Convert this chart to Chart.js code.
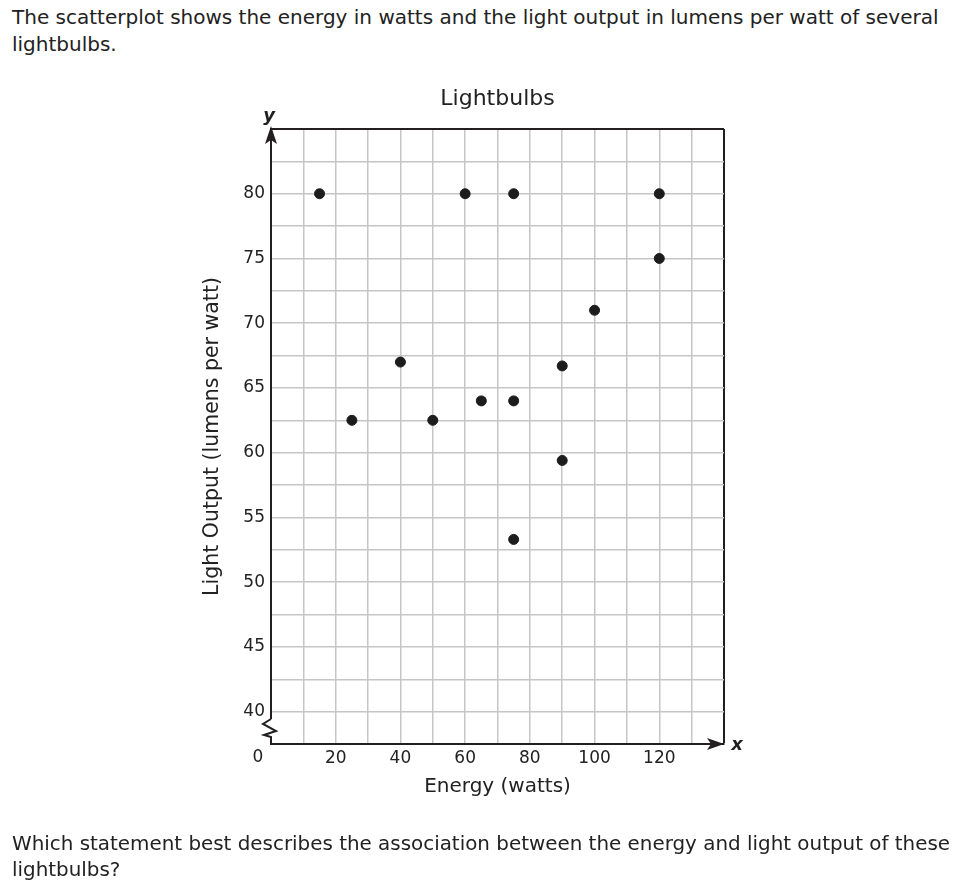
<!DOCTYPE html>
<html>
<head>
<meta charset="utf-8">
<script src="https://cdn.jsdelivr.net/npm/chart.js@4.4.0/dist/chart.umd.min.js"></script>
<style>
    html, body { margin: 0; padding: 0; background: #fff; }
    body { width: 962px; height: 890px; position: relative; overflow: hidden; font-family: 'DejaVu Sans', Verdana, sans-serif; color: #222; }
    .prompt { position: absolute; left: 12px; font-size: 20px; line-height: 27px; white-space: nowrap; }
    #top-text { top: 4px; }
    #bottom-text { top: 831px; line-height: 26px; font-size: 19.9px; }
    #chart { position: absolute; left: 0; top: 0; }
</style>
</head>
<body>
<div class="prompt" id="top-text">The scatterplot shows the energy in watts and the light output in lumens per watt of several<br>lightbulbs.</div>
<canvas id="chart" width="962" height="890"></canvas>
<div class="prompt" id="bottom-text">Which statement best describes the association between the energy and light output of these<br>lightbulbs?</div>
<script>
const energyWatts = [15, 25, 40, 50, 60, 65, 75, 75, 75, 90, 90, 100, 120, 120];
const lumensPerWatt = [80, 62.5, 67, 62.5, 80, 64, 80, 64, 53.3, 66.7, 59.4, 71, 80, 75];
const xTickLabels = [20, 40, 60, 80, 100, 120];
const yTickLabels = [40, 45, 50, 55, 60, 65, 70, 75, 80];

document.addEventListener('DOMContentLoaded', () => {
    const ink = '#231f20';
    const gridGray = '#c6c6c6';
    const fontFamily = "'DejaVu Sans', Verdana, sans-serif";

    // axis decorations: arrows, break, the x/y letters and the origin 0
    const axisExtras = {
        id: 'axisExtras',
        afterDraw(chart) {
            const { ctx, chartArea: area, scales } = chart;
            const x0 = area.left;
            const yb = area.bottom;
            ctx.save();
            ctx.fillStyle = ink;
            ctx.strokeStyle = ink;
            // y arrow
            ctx.beginPath();
            ctx.moveTo(x0, area.top - 3);
            ctx.lineTo(x0 - 6, area.top + 15);
            ctx.lineTo(x0, area.top + 11);
            ctx.lineTo(x0 + 6, area.top + 15);
            ctx.closePath();
            ctx.fill();
            // x arrow
            ctx.beginPath();
            ctx.moveTo(area.right, yb);
            ctx.lineTo(area.right - 17, yb - 6);
            ctx.lineTo(area.right - 13, yb);
            ctx.lineTo(area.right - 17, yb + 6);
            ctx.closePath();
            ctx.fill();
            // axis break
            ctx.fillStyle = '#fff';
            ctx.fillRect(x0 - 2, yb - 25, 4, 18);
            ctx.lineWidth = 2;
            ctx.lineJoin = 'miter';
            ctx.beginPath();
            ctx.moveTo(x0, yb - 25);
            ctx.lineTo(x0 - 8, yb - 20);
            ctx.lineTo(x0 + 5, yb - 13);
            ctx.lineTo(x0 - 7, yb - 9);
            ctx.lineTo(x0, yb - 7);
            ctx.lineTo(x0, yb);
            ctx.stroke();
            // letters
            ctx.fillStyle = ink;
            ctx.font = `italic bold 18px ${fontFamily}`;
            ctx.textAlign = 'center';
            ctx.textBaseline = 'middle';
            ctx.fillText('y', x0 - 2, area.top - 13);
            ctx.fillText('x', area.right + 13, yb + 1);
            ctx.font = `17px ${fontFamily}`;
            ctx.fillStyle = '#222';
            ctx.fillText('0', scales.x.getPixelForValue(0) - 13, yb + 14);
            ctx.restore();
        }
    };

    new Chart(document.getElementById('chart'), {
        type: 'scatter',
        data: {
            datasets: [{
                label: 'Lightbulbs',
                data: energyWatts.map((w, i) => ({ x: w, y: lumensPerWatt[i] })),
                backgroundColor: '#1c1c1c',
                borderColor: '#1c1c1c',
                pointRadius: 5,
                pointHoverRadius: 5
            }]
        },
        options: {
            responsive: false,
            animation: false,
            layout: { padding: { left: 190, right: 238, top: 0, bottom: 70 } },
            plugins: {
                legend: { display: false },
                tooltip: { enabled: false },
                title: {
                    display: true,
                    fullSize: false,
                    text: 'Lightbulbs',
                    color: '#222',
                    font: { family: fontFamily, size: 22, weight: 'normal' },
                    padding: { top: 86, bottom: 16.6 }
                }
            },
            scales: {
                x: {
                    type: 'linear',
                    min: 0,
                    max: 140,
                    afterFit: scale => { scale.height = 76; },
                    grid: {
                        drawTicks: false,
                        color: c => c.tick && c.tick.value === 140 ? ink : gridGray,
                        lineWidth: c => c.tick && c.tick.value === 140 ? 2 : 1.5
                    },
                    border: { color: ink, width: 2 },
                    ticks: {
                        stepSize: 10,
                        autoSkip: false,
                        maxRotation: 0,
                        padding: 4,
                        color: '#222',
                        font: { family: fontFamily, size: 17 },
                        callback: v => xTickLabels.includes(v) ? String(v) : ''
                    },
                    title: {
                        display: true,
                        text: 'Energy (watts)',
                        color: '#222',
                        font: { family: fontFamily, size: 20 },
                        padding: { top: 0, bottom: 21 }
                    }
                },
                y: {
                    type: 'linear',
                    min: 37.5,
                    max: 85,
                    afterFit: scale => { scale.width = 81; },
                    grid: {
                        drawTicks: false,
                        color: c => c.tick && c.tick.value === 85 ? ink : gridGray,
                        lineWidth: c => c.tick && c.tick.value === 85 ? 2 : 1.5
                    },
                    border: { color: ink, width: 2 },
                    ticks: {
                        stepSize: 2.5,
                        autoSkip: false,
                        padding: 6,
                        color: '#222',
                        font: { family: fontFamily, size: 17 },
                        callback: v => yTickLabels.includes(v) ? String(v) : ''
                    },
                    title: {
                        display: true,
                        text: 'Light Output (lumens per watt)',
                        color: '#222',
                        font: { family: fontFamily, size: 20.5 },
                        padding: { top: 10.5, bottom: 0 }
                    }
                }
            }
        },
        plugins: [axisExtras]
    });
});
</script>
</body>
</html>
